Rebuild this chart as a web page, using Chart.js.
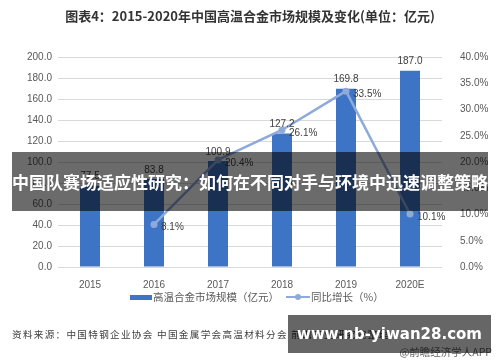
<!DOCTYPE html>
<html>
<head>
<meta charset="utf-8">
<script src="https://cdn.jsdelivr.net/npm/chart.js@4.4.1/dist/chart.umd.min.js"></script>
<style>
  html, body { margin: 0; padding: 0; background: #fff; }
  #wrap { position: relative; width: 500px; height: 362px; overflow: hidden;
          font-family: "Noto Sans CJK SC", "Liberation Sans", sans-serif; }
  #chart { position: absolute; left: 0; top: 0; }
  .abs { position: absolute; white-space: nowrap; }
  #title { left: 0; width: 500px; top: 6px; text-align: center; font-size: 13px; font-weight: bold; color: #333; }
  #legend { top: 289px; font-size: 10.5px; color: #595959; }
  #source { left: 12px; top: 327px; font-size: 9.6px; letter-spacing: 1.3px; color: #404040; }
  #app { right: 8px; top: 344px; font-size: 10.5px; color: #666; }
  #banner { left: 12px; top: 152px; width: 476px; height: 59px; background: rgba(0,0,0,0.58);
            color: #fff; font-size: 17px; font-weight: bold; line-height: 59px; text-align: center; }
  #mark { left: 288px; top: 315px; width: 203px; height: 38px; background: rgba(0,0,0,0.6);
          color: #fff; font-size: 15px; font-weight: bold; line-height: 38px; text-align: center;
          font-family: "DejaVu Sans", sans-serif; }
</style>
</head>
<body>
<div id="wrap">
  <canvas id="chart" width="500" height="362"></canvas>
  <div id="title" class="abs">图表4：2015-2020年中国高温合金市场规模及变化(单位：亿元)</div>
  <div id="legend" class="abs" style="left:0;width:500px;height:16px;">
    <span class="abs" style="left:130px;top:6px;width:22px;height:5px;background:#3d74c6;"></span>
    <span class="abs" style="left:153px;top:0;">高温合金市场规模（亿元）</span>
    <span class="abs" style="left:286px;top:7px;width:24px;height:2px;background:#8eaadb;"></span>
    <span class="abs" style="left:295px;top:5px;width:6px;height:6px;border-radius:3px;background:#8eaadb;"></span>
    <span class="abs" style="left:311px;top:0;">同比增长（%）</span>
  </div>
  <div id="source" class="abs">资料来源：中国特钢企业协会 中国金属学会高温材料分会 前瞻产业研究院整理</div>
  <div id="app" class="abs">@前瞻经济学人APP</div>
  <div id="banner" class="abs">中国队赛场适应性研究：如何在不同对手与环境中迅速调整策略</div>
  <div id="mark" class="abs">www.nb-yiwan28.com</div>
</div>
<script>
const years = ['2015', '2016', '2017', '2018', '2019', '2020E'];
const marketSize = [77.5, 83.8, 100.9, 127.2, 169.8, 187.0];
const growth = [null, 8.1, 20.4, 26.1, 33.5, 10.1];

const barColor = '#3d74c6';
const lineColor = '#8eaadb';

// value labels for bars and line points
const valueLabels = {
    id: 'valueLabels',
    afterDatasetsDraw(chart) {
        const ctx = chart.ctx;
        ctx.save();
        ctx.font = '10px "Liberation Sans", sans-serif';
        ctx.fillStyle = '#404040';
        chart.data.datasets.forEach((ds, i) => {
            const meta = chart.getDatasetMeta(i);
            meta.data.forEach((el, j) => {
                const v = ds.data[j];
                if (v === null) return;
                if (ds.type === 'bar') {
                    ctx.textAlign = 'center';
                    ctx.textBaseline = 'bottom';
                    ctx.fillText(v.toFixed(1), el.x, el.y - 4);
                } else {
                    ctx.textAlign = 'left';
                    ctx.textBaseline = 'middle';
                    ctx.fillText(v.toFixed(1) + '%', el.x + 7, el.y + 3);
                }
            });
        });
        ctx.restore();
    }
};

const ctx = document.getElementById('chart').getContext('2d');
new Chart(ctx, {
    data: {
        labels: years,
        datasets: [{
            type: 'line',
            label: '同比增长（%）',
            data: growth,
            yAxisID: 'y1',
            borderColor: lineColor,
            backgroundColor: lineColor,
            borderWidth: 2.5,
            pointRadius: 3.5,
            pointBackgroundColor: lineColor,
            pointBorderWidth: 0,
            tension: 0,
            order: 0
        }, {
            type: 'bar',
            label: '高温合金市场规模（亿元）',
            data: marketSize,
            yAxisID: 'y',
            backgroundColor: barColor,
            categoryPercentage: 0.5,
            barPercentage: 0.625,
            order: 1
        }]
    },
    options: {
        responsive: false,
        animation: false,
        layout: { padding: { top: 57, left: 0, right: 0, bottom: 0 } },
        plugins: {
            legend: { display: false },
            tooltip: { enabled: false }
        },
        scales: {
            x: {
                grid: { display: false },
                border: { display: false },
                ticks: { color: '#595959', font: { size: 10, family: '"Liberation Sans", sans-serif' }, padding: 4 },
                afterFit: s => { s.height = 95; }
            },
            y: {
                position: 'left',
                min: 0,
                max: 200,
                grid: { color: '#d9d9d9', drawTicks: false },
                border: { display: false },
                ticks: {
                    stepSize: 20,
                    color: '#595959',
                    font: { size: 10, family: '"Liberation Sans", sans-serif' },
                    padding: 6,
                    callback: v => v.toFixed(1)
                },
                afterFit: s => { s.width = 58; }
            },
            y1: {
                position: 'right',
                min: 0,
                max: 40,
                grid: { display: false },
                border: { display: false },
                ticks: {
                    stepSize: 5,
                    color: '#595959',
                    font: { size: 10, family: '"Liberation Sans", sans-serif' },
                    padding: 10,
                    callback: v => v.toFixed(1) + '%'
                },
                afterFit: s => { s.width = 58; }
            }
        }
    },
    plugins: [valueLabels]
});
</script>
</body>
</html>
